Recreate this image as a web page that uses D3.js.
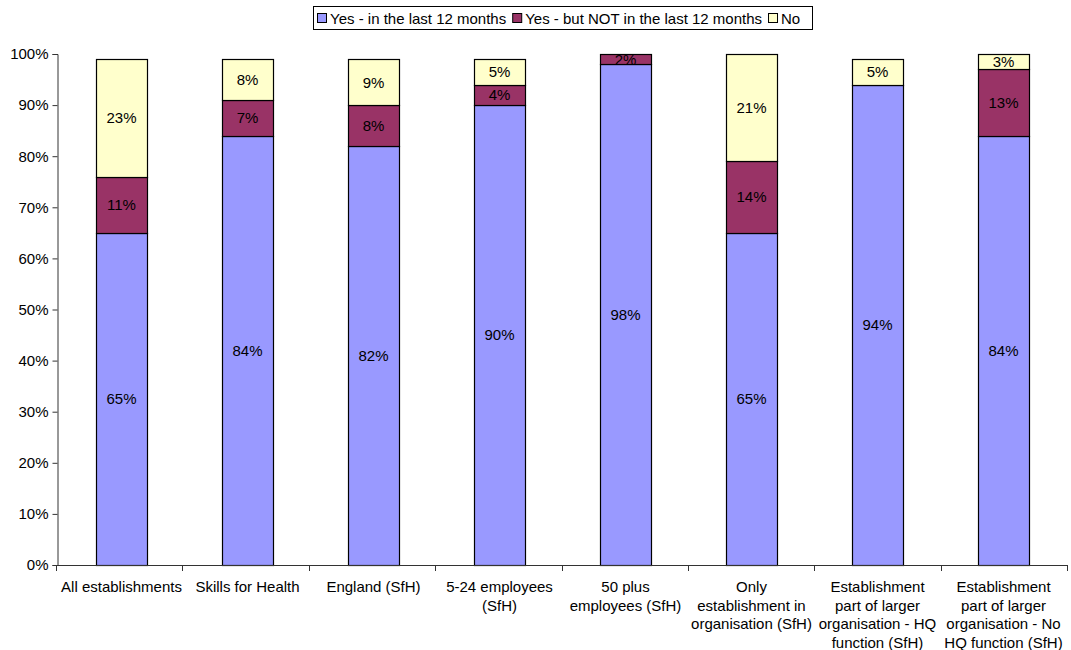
<!DOCTYPE html>
<html>
<head>
<meta charset="utf-8">
<script src="https://cdn.jsdelivr.net/npm/d3@7"></script>
<style>
  html, body { margin: 0; padding: 0; background: #fff; }
  svg { display: block; font-family: "Liberation Sans", Arial, sans-serif; }
</style>
</head>
<body>
<svg id="chart" width="1071" height="650"></svg>
<script>
// Categories and their wrapped axis labels
const categories = [
  "All establishments", "Skills for Health", "England (SfH)", "5-24 employees (SfH)",
  "50 plus employees (SfH)", "Only establishment in organisation (SfH)",
  "Establishment part of larger organisation - HQ function (SfH)",
  "Establishment part of larger organisation - No HQ function (SfH)"
];
const categoryLines = [
  ["All establishments"],
  ["Skills for Health"],
  ["England (SfH)"],
  ["5-24 employees", "(SfH)"],
  ["50 plus", "employees (SfH)"],
  ["Only", "establishment in", "organisation (SfH)"],
  ["Establishment", "part of larger", "organisation - HQ", "function (SfH)"],
  ["Establishment", "part of larger", "organisation - No", "HQ function (SfH)"]
];

// Series (percent of establishments)
const seriesNames = ["Yes - in the last 12 months", "Yes - but NOT in the last 12 months", "No"];
const yesRecent    = [65, 84, 82, 90, 98, 65, 94, 84];
const yesNotRecent = [11, 7, 8, 4, 2, 14, 0, 13];
const noValues     = [23, 8, 9, 5, 0, 21, 5, 3];
const seriesColors = ["#9999FF", "#993366", "#FFFFCC"];

const yTicks = [0, 10, 20, 30, 40, 50, 60, 70, 80, 90, 100];

const FONT = 15;
const svg = d3.select("#chart");
const margin = { left: 57, right: 3, top: 54, bottom: 85 };
const W = 1071, H = 650;

const x = d3.scaleBand().domain(categories).range([margin.left, W - margin.right])
  .paddingInner(0.596).paddingOuter(0.31);
const y = d3.scaleLinear().domain([0, 100]).range([H - margin.bottom, margin.top]);

const rows = categories.map((c, i) => ({
  cat: c, s0: yesRecent[i], s1: yesNotRecent[i], s2: noValues[i]
}));
const layers = d3.stack().keys(["s0", "s1", "s2"])(rows);

// Bars
const g = svg.append("g");
layers.forEach((layer, li) => {
  g.selectAll(null).data(layer.filter(d => d[1] - d[0] > 0)).enter().append("rect")
    .attr("x", d => Math.round(x(d.data.cat)) + 0.5)
    .attr("width", Math.round(x.bandwidth()))
    .attr("y", d => Math.round(y(d[1])) + 0.5)
    .attr("height", d => Math.round(y(d[0])) - Math.round(y(d[1])))
    .attr("fill", seriesColors[li])
    .attr("stroke", "#000")
    .attr("stroke-width", 1.2);
});

// Value labels
layers.forEach((layer) => {
  g.selectAll(null).data(layer.filter(d => d[1] - d[0] > 0)).enter().append("text")
    .attr("x", d => x(d.data.cat) + x.bandwidth() / 2)
    .attr("y", d => y((d[0] + d[1]) / 2))
    .attr("dy", "0.36em")
    .attr("text-anchor", "middle")
    .attr("font-size", FONT)
    .attr("fill", "#000")
    .text(d => (d[1] - d[0]) + "%");
});

// Y axis
const yAxis = d3.axisLeft(y).tickValues(yTicks).tickFormat(d => d + "%").tickSize(5).tickPadding(4);
const ya = svg.append("g").attr("transform", `translate(${margin.left + 0.5},0)`).call(yAxis);
ya.select(".domain").attr("stroke", "#333");
ya.selectAll(".tick line").attr("stroke", "#333");
ya.selectAll("text").attr("font-size", FONT).attr("fill", "#000")
  .attr("font-family", "Liberation Sans, Arial, sans-serif");

// X axis line with ticks at category boundaries
const xa = svg.append("g");
xa.append("line")
  .attr("x1", margin.left).attr("x2", W - margin.right)
  .attr("y1", y(0) + 0.5).attr("y2", y(0) + 0.5)
  .attr("stroke", "#333");
const bounds = d3.range(categories.length + 1)
  .map(i => margin.left + i * (W - margin.left - margin.right) / categories.length);
xa.selectAll(null).data(bounds).enter().append("line")
  .attr("x1", d => Math.round(d) - 0.5).attr("x2", d => Math.round(d) - 0.5)
  .attr("y1", y(0)).attr("y2", y(0) + 6)
  .attr("stroke", "#333");

// Category labels
categoryLines.forEach((lines, i) => {
  const cx = x(categories[i]) + x.bandwidth() / 2;
  const t = xa.append("text")
    .attr("x", cx)
    .attr("y", 592)
    .attr("text-anchor", "middle")
    .attr("font-size", FONT)
    .attr("fill", "#000");
  lines.forEach((ln, k) => {
    t.append("tspan").attr("x", cx).attr("dy", k === 0 ? 0 : 18.5).text(ln);
  });
});

// Legend
const legend = svg.append("g");
legend.append("rect").attr("x", 313.5).attr("y", 6.5).attr("width", 499).attr("height", 23)
  .attr("fill", "#fff").attr("stroke", "#000");
let lx = 317;
seriesNames.forEach((name, i) => {
  legend.append("rect").attr("x", lx + 0.5).attr("y", 13.5).attr("width", 9).attr("height", 9)
    .attr("fill", seriesColors[i]).attr("stroke", "#000");
  const t = legend.append("text").attr("x", lx + 13).attr("y", 23.5)
    .attr("font-size", FONT).attr("fill", "#000").text(name);
  lx += 13 + t.node().getComputedTextLength() + 6;
});
</script>
</body>
</html>
